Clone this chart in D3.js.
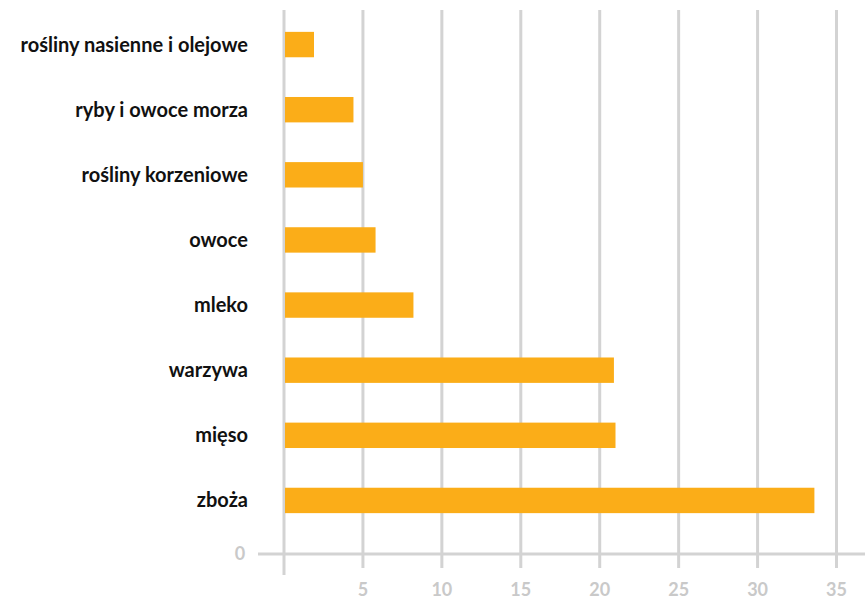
<!DOCTYPE html>
<html>
<head>
<meta charset="utf-8">
<script src="https://cdn.jsdelivr.net/npm/d3@7"></script>
<style>
  html, body { margin: 0; padding: 0; background: #ffffff; }
  svg { display: block; }
</style>
</head>
<body>
<svg id="chart" width="865" height="600"></svg>
<script>
// Food categories, listed top to bottom
const categories = [
  "rośliny nasienne i olejowe",
  "ryby i owoce morza",
  "rośliny korzeniowe",
  "owoce",
  "mleko",
  "warzywa",
  "mięso",
  "zboża"
];
const values = [1.9, 4.4, 5.0, 5.8, 8.2, 20.9, 21.0, 33.6];
const xTicks = [0, 5, 10, 15, 20, 25, 30, 35];
const yZeroLabel = "0";

const svg = d3.select("#chart");
const gridColor = "#d3d3d3";
const labelGray = "#c9c9c9";
const barColor = "#fbad18";

const x = d3.scaleLinear().domain([0, 35]).range([284, 836.5]);
const y = d3.scaleBand()
  .domain(categories)
  .range([12, 533])
  .paddingInner(0.61)
  .paddingOuter(0.305);

const axisY = 554;

// Vertical grid lines (the zero line runs a little longer below the axis)
svg.append("g").selectAll("line")
  .data(xTicks)
  .join("line")
  .attr("x1", d => x(d)).attr("x2", d => x(d))
  .attr("y1", 10)
  .attr("y2", d => d === 0 ? 575 : 568)
  .attr("stroke", gridColor)
  .attr("stroke-width", 3);

// Horizontal axis line
svg.append("line")
  .attr("x1", 258).attr("x2", 865)
  .attr("y1", axisY).attr("y2", axisY)
  .attr("stroke", gridColor)
  .attr("stroke-width", 3);

// Bars
svg.append("g").selectAll("rect")
  .data(categories)
  .join("rect")
  .attr("x", x(0) + 1)
  .attr("y", d => y(d))
  .attr("width", (d, i) => x(values[i]) - x(0) - 1)
  .attr("height", y.bandwidth())
  .attr("fill", barColor);

// Category labels
svg.append("g").selectAll("text")
  .data(categories)
  .join("text")
  .attr("x", 248)
  .attr("y", d => y(d) + y.bandwidth() / 2)
  .attr("dy", "0.35em")
  .attr("text-anchor", "end")
  .attr("font-family", "Lato, 'Open Sans', sans-serif")
  .attr("font-weight", "bold")
  .attr("font-size", 20)
  .attr("fill", "#111111")
  .text(d => d);

// X tick labels (zero is omitted)
svg.append("g").selectAll("text")
  .data(xTicks.filter(d => d !== 0))
  .join("text")
  .attr("x", d => x(d))
  .attr("y", 590)
  .attr("dy", "0.35em")
  .attr("text-anchor", "middle")
  .attr("font-family", "Lato, 'Open Sans', sans-serif")
  .attr("font-weight", "bold")
  .attr("font-size", 18)
  .attr("fill", labelGray)
  .text(d => d);

// Zero label left of the axis line
svg.append("text")
  .attr("x", 240)
  .attr("y", axisY)
  .attr("dy", "0.35em")
  .attr("text-anchor", "middle")
  .attr("font-family", "Lato, 'Open Sans', sans-serif")
  .attr("font-weight", "bold")
  .attr("font-size", 18)
  .attr("fill", labelGray)
  .text(yZeroLabel);
</script>
</body>
</html>
